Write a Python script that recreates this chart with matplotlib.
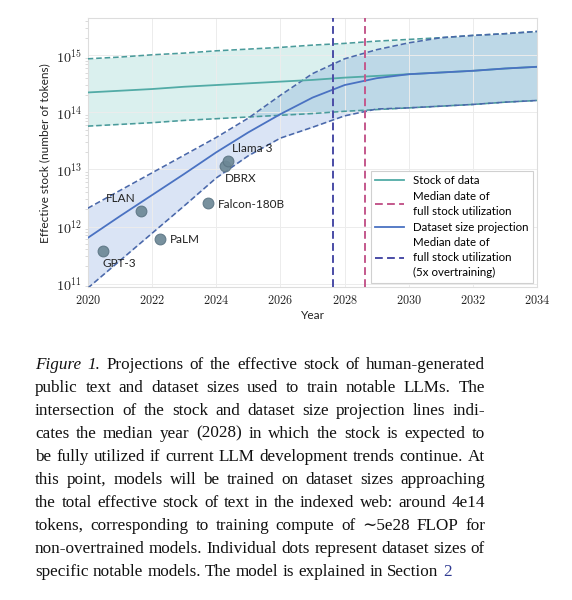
import matplotlib
matplotlib.use("Agg")
import matplotlib.pyplot as plt
import numpy as np

plt.rcParams['mathtext.fontset'] = 'cm'
SANS = ['Lato', 'DejaVu Sans']
SERIF = ['Liberation Serif', 'DejaVu Serif']

# ---- data (log10 of tokens) ----
years = [2020, 2021, 2022, 2023, 2024, 2025, 2026, 2027,
         2028, 2029, 2030, 2031, 2032, 2033, 2034]
stock_med = [14.35, 14.38, 14.41, 14.45, 14.48, 14.51, 14.54, 14.57,
             14.61, 14.64, 14.67, 14.70, 14.73, 14.77, 14.80]
stock_hi = [14.94, 14.97, 15.01, 15.04, 15.08, 15.11, 15.14, 15.18,
            15.21, 15.25, 15.28, 15.31, 15.35, 15.38, 15.42]
stock_lo = [13.76, 13.79, 13.82, 13.86, 13.89, 13.92, 13.95, 13.98,
            14.02, 14.05, 14.08, 14.11, 14.14, 14.18, 14.21]
proj_med = [11.80, 12.18, 12.55, 12.92, 13.30, 13.65, 13.97, 14.26,
            14.48, 14.60, 14.67, 14.70, 14.73, 14.77, 14.80]
proj_hi = [12.32, 12.63, 12.94, 13.25, 13.56, 13.90, 14.30, 14.68,
           14.94, 15.10, 15.22, 15.31, 15.35, 15.38, 15.42]
proj_lo = [10.92, 11.40, 11.88, 12.36, 12.85, 13.24, 13.55, 13.74,
           13.94, 14.06, 14.08, 14.11, 14.14, 14.18, 14.21]

model_names = ['GPT-3', 'FLAN', 'PaLM', 'Falcon-180B', 'DBRX', 'Llama 3']
model_dates = [2020.49, 2021.65, 2022.25, 2023.75, 2024.26, 2024.36]
model_tokens = [3.8e11, 1.9e12, 6.0e11, 2.6e12, 1.15e13, 1.4e13]

median_full = 2028.63
median_full_overtrain = 2027.64

caption_lines = [
    "Figure 1. Projections of the effective stock of human-generated",
    "public text and dataset sizes used to train notable LLMs.  The",
    "intersection of the stock and dataset size projection lines indi-",
    "cates the median year (2028) in which the stock is expected to",
    "be fully utilized if current LLM development trends continue. At",
    "this point, models will be trained on dataset sizes approaching",
    "the total effective stock of text in the indexed web: around 4e14",
    "tokens, corresponding to training compute of \u223c5e28 FLOP for",
    "non-overtrained models. Individual dots represent dataset sizes of",
    "specific notable models. The model is explained in Section 2",
]

W, H = 572, 600
fig = plt.figure(figsize=(W / 100, H / 100), dpi=100)
ax = fig.add_axes([87.7 / W, 1 - 287 / H, (537.3 - 87.7) / W, (287 - 18.3) / H])

yr = np.array(years, dtype=float)
p = lambda v: 10 ** np.array(v)

teal = '#52aba6'
teal_d = '#4a9b9b'
blue = '#4a72c2'
blue_d = '#4a68aa'
dash = (0, (3.5, 1.8))

ax.fill_between(yr, p(stock_lo), p(stock_hi), color='#8fd3cc', alpha=0.33, lw=0, zorder=1)
ax.fill_between(yr, p(proj_lo), p(proj_hi), color='#5a86d2', alpha=0.22, lw=0, zorder=1)

for arr, c in [(stock_hi, teal_d), (stock_lo, teal_d), (proj_hi, blue_d), (proj_lo, blue_d)]:
    ax.plot(yr, p(arr), color=c, lw=1.15, ls=dash, zorder=3)
l_stock, = ax.plot(yr, p(stock_med), color=teal, lw=1.3, zorder=4, label='Stock of data')
l_proj, = ax.plot(yr, p(proj_med), color=blue, lw=1.3, zorder=4, label='Dataset size projection')

l_med = ax.axvline(median_full, color='#c4588c', lw=1.4, ls=(0, (4, 2.2)), zorder=5,
                   label='Median date of\nfull stock utilization')
l_med5 = ax.axvline(median_full_overtrain, color='#4a4ca6', lw=1.4, ls=(0, (4, 2.2)), zorder=5,
                    label='Median date of\nfull stock utilization\n(5x overtraining)')

ax.scatter(model_dates, model_tokens, s=60, color='#6d8896', edgecolor='#5d7685',
           lw=0.8, alpha=0.92, zorder=6)

# label offsets in points (dx, dy)
offsets = {
    'GPT-3': (-1, -9),
    'FLAN': (-25, 9),
    'PaLM': (7, 0),
    'Falcon-180B': (7, -1.5),
    'DBRX': (0, -9),
    'Llama 3': (3, 9),
}
for name, d, t in zip(model_names, model_dates, model_tokens):
    dx, dy = offsets[name]
    ax.annotate(name, (d, t), xytext=(dx, dy), textcoords='offset points',
                ha='left', va='center', fontsize=8.5, family=SANS, color='#222222', zorder=7)

ax.set_yscale('log')
ax.set_xlim(2020, 2034)
ax.set_ylim(10 ** 10.94, 10 ** 15.65)
ax.set_xticks(range(2020, 2035, 2))
ax.set_xticklabels([f'${y}$' for y in range(2020, 2035, 2)])
ax.set_yticks([1e11, 1e12, 1e13, 1e14, 1e15])
ax.set_yticklabels([f'$10^{{{e}}}$' for e in range(11, 16)])
ax.tick_params(axis='both', which='major', length=0, colors='#222222')
ax.tick_params(axis='x', which='major', labelsize=8.8, pad=5)
ax.tick_params(axis='y', which='major', labelsize=10.2, pad=4)
ax.tick_params(axis='y', which='minor', length=2.5, width=0.5, color='#cccccc')
ax.tick_params(axis='x', which='minor', length=0)
ax.grid(True, which='major', color='#ececec', lw=0.7, zorder=0)
for s in ax.spines.values():
    s.set_color('#dddddd')
    s.set_linewidth(0.8)

ax.set_xlabel('Year', family=SANS, fontsize=8.6, labelpad=2, color='#222222')
ax.set_ylabel('Effective stock (number of tokens)', family=SANS, fontsize=8.6,
              labelpad=4, color='#222222')

leg = ax.legend(handles=[l_stock, l_med, l_proj, l_med5], loc='lower right',
                prop={'family': SANS, 'size': 8.3}, frameon=True, fancybox=False,
                edgecolor='#d0d0d0', framealpha=1, handlelength=2.5,
                borderaxespad=0.35, labelspacing=0.4, handletextpad=0.8)
leg.get_frame().set_linewidth(0.8)
for t in leg.get_texts():
    t.set_linespacing(1.45)

# ---- justified caption ----
fig.canvas.draw()
r = fig.canvas.get_renderer()
left, right = 35.0, 485.0
base0, dy = 369.0, 22.95
for i, line in enumerate(caption_lines):
    words = line.split()
    yb = 1 - (base0 + i * dy) / H
    last = i == len(caption_lines) - 1
    texts = []
    for j, w in enumerate(words):
        style = 'italic' if (i == 0 and j < 2) else 'normal'
        color = '#2f3a92' if (last and j == len(words) - 1) else '#111111'
        texts.append(fig.text(0, yb, w, family=SERIF, fontsize=12.3, style=style,
                              color=color, va='baseline', ha='left'))
    widths = [t.get_window_extent(r).width for t in texts]
    if last:
        sp = fig.text(0, 0, 'a b', family=SERIF, fontsize=12.3)
        sp2 = fig.text(0, 0, 'ab', family=SERIF, fontsize=12.3)
        gap = sp.get_window_extent(r).width - sp2.get_window_extent(r).width
        sp.remove()
        sp2.remove()
    else:
        gap = (right - left - sum(widths)) / (len(words) - 1)
    x = left
    for t, w in zip(texts, widths):
        t.set_x(x / W)
        x += w + gap

fig.savefig('out.png', dpi=100)
